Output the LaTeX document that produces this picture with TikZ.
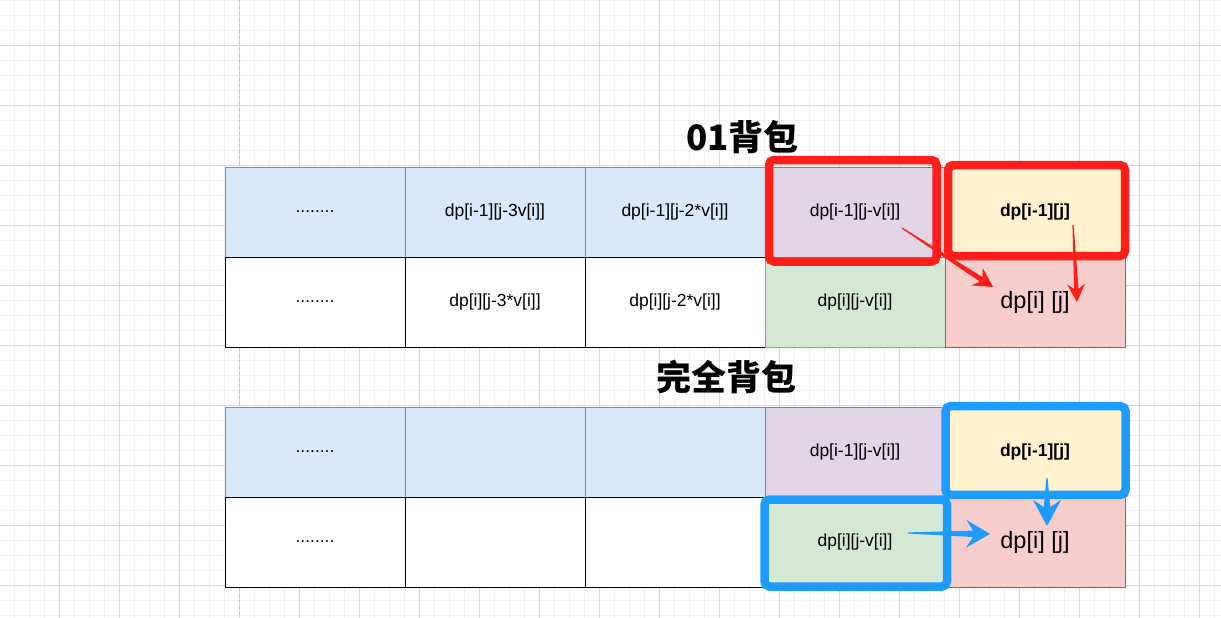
\documentclass[tikz,border=0pt]{standalone}
\usepackage{fontspec}
\setmainfont{Liberation Sans}
\newfontfamily\cjk{Noto Sans CJK SC}
\usetikzlibrary{calc}
\definecolor{gmaj}{HTML}{D9D9D9}
\definecolor{gmin}{HTML}{F2F2F2}
\definecolor{gdash}{HTML}{C4C4C4}
\definecolor{bluef}{HTML}{DAE8FC}\definecolor{blued}{HTML}{6C8EBF}
\definecolor{purf}{HTML}{E1D5E7}\definecolor{purd}{HTML}{9673A6}
\definecolor{yelf}{HTML}{FFF2CC}\definecolor{yeld}{HTML}{D6B656}
\definecolor{grnf}{HTML}{D5E8D4}\definecolor{grnd}{HTML}{82B366}
\definecolor{redf}{HTML}{F8CECC}\definecolor{redd}{HTML}{B85450}
\definecolor{hred}{HTML}{FF1E1A}
\definecolor{hblue}{HTML}{1E9BFF}
\newcommand\blockarrow[7]{%
 \coordinate (ba-b) at ($(#3)!#4!(#2)$);
 \coordinate (ba-n) at ($(#3)!#5!(#2)$);
 \fill[#1] ($(#2)!0.6pt!90:(#3)$) -- ($(ba-n)!#7!90:(#3)$) -- ($(ba-b)!#6!90:(#3)$) -- (#3)
   -- ($(ba-b)!#6!-90:(#3)$) -- ($(ba-n)!#7!-90:(#3)$) -- ($(#2)!0.6pt!-90:(#3)$) -- cycle;}
\tikzset{
 cell/.style={minimum width=180pt, minimum height=90pt, inner sep=0pt, line width=1pt,
   font=\fontsize{17.5}{21}\selectfont, text=black},
 bcell/.style={cell, fill=bluef, draw=blued},
 wcell/.style={cell, fill=white, draw=black},
 pcell/.style={cell, fill=purf, draw=purd},
 ycell/.style={cell, fill=yelf, draw=yeld, font=\fontsize{17.5}{21}\selectfont\bfseries},
 gcell/.style={cell, fill=grnf, draw=grnd},
 rcell/.style={cell, fill=redf, draw=redd, font=\fontsize{23.5}{28}\selectfont},
 redbox/.style={draw=hred, line width=8.5pt, rounded corners=5pt},
 bluebox/.style={draw=hblue, line width=8.5pt, rounded corners=5pt},
 title/.style={font=\cjk\bfseries\fontsize{35}{40}\selectfont, inner sep=0pt},
}
\begin{document}
\begin{tikzpicture}[x=1pt,y=-1pt]
\useasboundingbox (0,0) rectangle (1221,618);
\fill[white] (0,0) rectangle (1221,618);
% grid
\foreach \i in {0,...,81} {\draw[gmin, line width=1pt] ({14.3+15*\i},0) -- ++(0,618);}
\foreach \i in {0,...,41} {\draw[gmin, line width=1pt] (0,{0.7+15*\i}) -- ++(1221,0);}
\foreach \i in {0,...,20} {\draw[gmaj, line width=1pt] ({59.3+60*\i},0) -- ++(0,618);}
\foreach \i in {0,...,10} {\draw[gmaj, line width=1pt] (0,{45.7+60*\i}) -- ++(1221,0);}
\draw[gdash, line width=1pt, dash pattern=on 3pt off 3pt] (239.3,0) -- (239.3,618);
% titles
\node[title] (t1) at (742.5,137) {01背包};
\node[title] (t2) at (726.5,377) {完全背包};
% table 1
\node[bcell] (a11) at (315,212) {........};
\node[bcell] (a12) at (495,212) {dp[i-1][j-3v[i]]};
\node[bcell] (a13) at (675,212) {dp[i-1][j-2*v[i]]};
\node[pcell] (a14) at (855,212) {dp[i-1][j-v[i]]};
\node[ycell] (a15) at (1035,212) {dp[i-1][j]};
\node[wcell] (a21) at (315,302) {........};
\node[wcell] (a22) at (495,302) {dp[i][j-3*v[i]]};
\node[wcell] (a23) at (675,302) {dp[i][j-2*v[i]]};
\node[gcell] (a24) at (855,302) {dp[i][j-v[i]]};
\node[rcell] (a25) at (1035,302) {dp[i] [j]};
% table 2
\node[bcell] (b11) at (315,452) {........};
\node[bcell] (b12) at (495,452) {};
\node[bcell] (b13) at (675,452) {};
\node[pcell] (b14) at (855,452) {dp[i-1][j-v[i]]};
\node[ycell] (b15) at (1035,452) {dp[i-1][j]};
\node[wcell] (b21) at (315,542) {........};
\node[wcell] (b22) at (495,542) {};
\node[wcell] (b23) at (675,542) {};
\node[gcell] (b24) at (855,542) {dp[i][j-v[i]]};
\node[rcell] (b25) at (1035,542) {dp[i] [j]};
% red highlight boxes
\draw[redbox] ($(a14.north west)+(4.5,-6.5)$) rectangle ($(a14.south east)+(-9,4)$);
\draw[redbox] ($(a15.north west)+(3.7,-1.5)$) rectangle ($(a15.south east)+(-0.5,-1.5)$);
% red arrows
\coordinate (ra1s) at (902,228);
\coordinate (ra1t) at (993,287);
\coordinate (ra2s) at (1073,225);
\coordinate (ra2t) at (1077,302);
\blockarrow{hred}{ra1s}{ra1t}{19pt}{14pt}{10.5pt}{2.6pt}
\blockarrow{hred}{ra2s}{ra2t}{18pt}{13pt}{9pt}{2.2pt}
% blue highlight boxes
\draw[bluebox] ($(b24.north west)+(0,3)$) rectangle ($(b24.south east)+(1.5,-1)$);
\draw[bluebox] ($(b15.north west)+(1,-0.3)$) rectangle ($(b15.south east)+(0,-2.7)$);
% blue arrows
\coordinate (ba1s) at (908,533);
\coordinate (ba1t) at (990,534);
\coordinate (ba2s) at (1047,478);
\coordinate (ba2t) at (1047,526);
\blockarrow{hblue}{ba1s}{ba1t}{24pt}{17pt}{14pt}{3.2pt}
\blockarrow{hblue}{ba2s}{ba2t}{26pt}{19pt}{14pt}{3.2pt}
\end{tikzpicture}
\end{document}
